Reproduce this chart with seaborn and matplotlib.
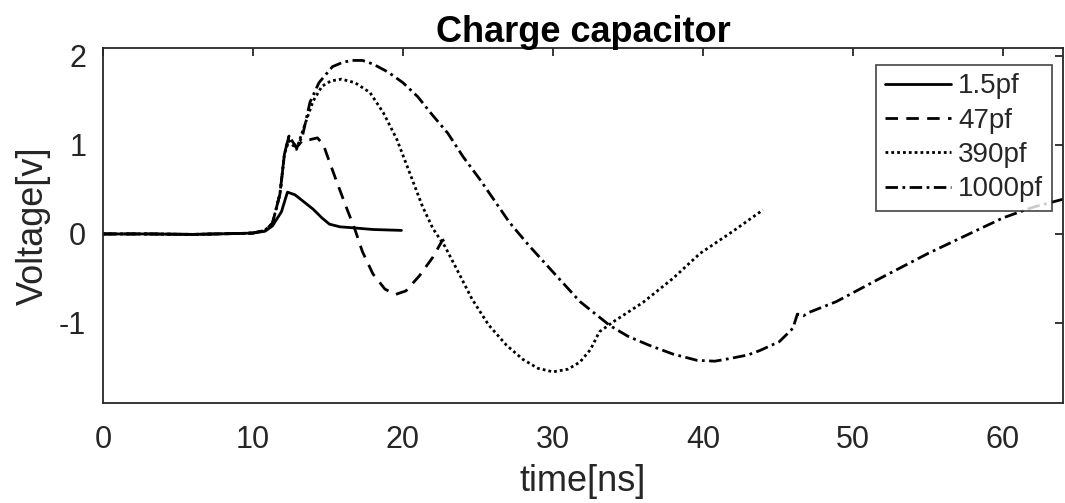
import numpy as np
import pandas as pd
import matplotlib
matplotlib.use("Agg")
import matplotlib.pyplot as plt
import seaborn as sns

series_names = ["1.5pf", "47pf", "390pf", "1000pf"]

t_15 = [0, 3, 6, 9, 10, 10.8, 11.3, 11.9, 12.3, 12.8, 13.4, 14.0, 14.6, 15.1, 15.8, 16.6, 18.0, 19.9]
v_15 = [0, 0.0, -0.005, 0.005, 0.01, 0.03, 0.09, 0.25, 0.47, 0.44, 0.36, 0.28, 0.18, 0.11, 0.08, 0.07, 0.05, 0.04]

t_47 = [0, 3, 6, 9, 10, 10.8, 11.3, 11.8, 12.1, 12.4, 12.9, 13.3, 13.8, 14.3, 14.7, 15.1, 15.6, 16.2, 16.8, 17.3, 18.0, 18.8, 19.5, 20.2, 21.1, 22.0, 22.6, 23.2]
v_47 = [0, 0.0, -0.005, 0.005, 0.01, 0.04, 0.12, 0.45, 0.9, 1.1, 0.97, 1.05, 1.06, 1.08, 1.0, 0.81, 0.58, 0.31, 0.05, -0.2, -0.45, -0.62, -0.68, -0.64, -0.47, -0.26, -0.08, -0.01]

t_390 = [0, 3, 6, 9, 10, 10.8, 11.3, 11.8, 12.1, 12.4, 12.9, 13.4, 14.0, 14.6, 15.2, 15.9, 16.8, 17.8, 18.7, 19.6, 20.6, 21.3, 22.0, 22.8, 23.6, 24.6, 25.7, 26.9, 28.0, 29.0, 30.0, 31.0, 31.8, 32.5, 33.1, 34.0, 36.0, 38.0, 39.8, 42.0, 44.0]
v_390 = [0, 0.0, -0.005, 0.005, 0.01, 0.04, 0.12, 0.45, 0.9, 1.05, 0.95, 1.2, 1.49, 1.66, 1.72, 1.74, 1.70, 1.59, 1.36, 1.06, 0.62, 0.31, 0.06, -0.14, -0.40, -0.73, -1.02, -1.25, -1.41, -1.51, -1.55, -1.52, -1.44, -1.30, -1.10, -0.99, -0.77, -0.50, -0.22, 0.03, 0.27]

t_1000 = [0, 3, 6, 9, 10, 10.8, 11.3, 11.8, 12.1, 12.4, 12.9, 13.3, 13.8, 14.4, 15.3, 16.0, 16.6, 17.3, 18.0, 19.0, 20.0, 21.0, 21.8, 23.0, 24.0, 25.1, 26.0, 27.1, 28.4, 29.8, 31.8, 33.8, 35.0, 36.4, 38.0, 39.6, 40.8, 41.8, 43.0, 43.8, 45.1, 46.0, 46.3, 46.7, 47.1, 48.9, 51.8, 55.0, 58.0, 60.0, 62.0, 64.0]
v_1000 = [0, 0.0, -0.005, 0.005, 0.01, 0.04, 0.12, 0.45, 0.9, 1.1, 0.97, 1.1, 1.48, 1.70, 1.88, 1.93, 1.95, 1.95, 1.91, 1.82, 1.70, 1.54, 1.37, 1.13, 0.87, 0.62, 0.40, 0.13, -0.13, -0.39, -0.76, -1.03, -1.15, -1.25, -1.35, -1.42, -1.43, -1.40, -1.36, -1.31, -1.21, -1.06, -0.90, -0.92, -0.88, -0.76, -0.50, -0.22, 0.02, 0.18, 0.30, 0.39]

data = [(t_15, v_15), (t_47, v_47), (t_390, v_390), (t_1000, v_1000)]
frames = []
for name, (t, v) in zip(series_names, data):
    frames.append(pd.DataFrame({"time": t, "voltage": v, "series": name}))
df = pd.concat(frames, ignore_index=True)

sns.set_style("white")
plt.rcParams['font.family'] = ['Liberation Sans', 'DejaVu Sans']
plt.rcParams['axes.unicode_minus'] = False
plt.rcParams['xtick.direction'] = 'in'
plt.rcParams['ytick.direction'] = 'in'

fig = plt.figure(figsize=(10.65, 5.03), dpi=100)
ax = fig.add_axes([0.0967, 0.1988, 0.9013, 0.7058])

dash_map = {"1.5pf": "", "47pf": (4.5, 3), "390pf": (1, 1.1), "1000pf": (4.5, 1.6, 1, 1.6)}
sns.lineplot(data=df, x="time", y="voltage", hue="series", style="series",
             palette=["black"] * 4, dashes=dash_map, hue_order=series_names,
             style_order=series_names, linewidth=2.0, sort=False, estimator=None,
             ax=ax)

ax.set_xlim(0, 64)
ax.set_ylim(-1.9, 2.09)
ax.set_xticks([0, 10, 20, 30, 40, 50, 60])
ax.set_yticks([-1, 0, 1, 2])
ax.tick_params(axis='both', labelsize=22, length=6, width=1.3, top=True, right=True,
               colors='#262626', labelcolor='#262626')
ax.tick_params(axis='x', pad=16)
ax.tick_params(axis='y', pad=12)
for s in ax.spines.values():
    s.set_color('#262626')
    s.set_linewidth(1.3)
    s.set_visible(True)
ax.set_xlabel("time[ns]", fontsize=26, color='#262626', labelpad=6)
ax.set_ylabel("Voltage[v]", fontsize=26, color='#262626', labelpad=6)
ax.set_title("Charge capacitor", fontsize=26, fontweight='bold', pad=4, color='black')

leg = ax.legend(loc='upper right', bbox_to_anchor=(0.9885, 0.952), fontsize=20,
                handlelength=2.4, frameon=True, fancybox=False, edgecolor='#262626',
                borderpad=0.3, labelspacing=0.3, handletextpad=0.25, borderaxespad=0)
leg.get_frame().set_linewidth(1.3)

fig.savefig("out.png", dpi=100)
